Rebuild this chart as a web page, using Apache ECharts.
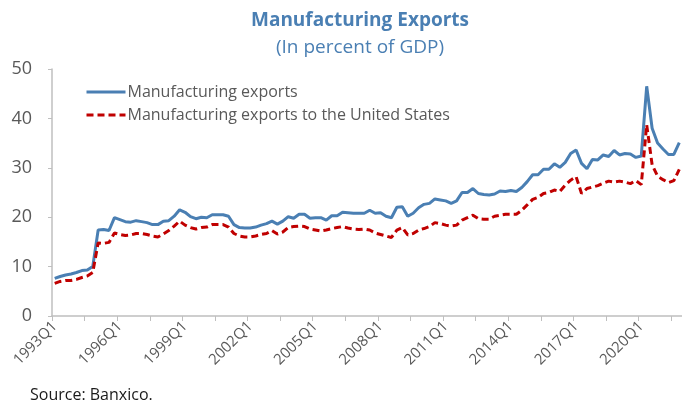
<!DOCTYPE html>
<html>
<head>
<meta charset="utf-8">
<script src="https://cdn.jsdelivr.net/npm/echarts@6/dist/echarts.min.js"></script>
<style>
  html, body { margin: 0; padding: 0; background: #ffffff; }
  #chart { width: 682px; height: 402px; }
</style>
</head>
<body>
<div id="chart"></div>
<script>
// Quarterly categories, 1993Q1 through 2021Q4
const firstYear = 1993;
const lastYear = 2021;
const quarters = [];
for (let y = firstYear; y <= lastYear; y++) {
  for (let q = 1; q <= 4; q++) quarters.push(y + 'Q' + q);
}

// Manufacturing exports, percent of GDP
const manufacturingExports = [
  7.6, 8.0, 8.3, 8.5, 8.8, 9.2, 9.3, 10.0,
  17.4, 17.5, 17.3, 19.9, 19.5, 19.1, 19.0, 19.3,
  19.1, 18.9, 18.5, 18.5, 19.2, 19.3, 20.2, 21.5,
  21.0, 20.1, 19.7, 20.0, 19.9, 20.5, 20.5, 20.5,
  20.2, 18.5, 17.9, 17.8, 17.8, 18.0, 18.4, 18.7,
  19.2, 18.6, 19.2, 20.1, 19.8, 20.6, 20.6, 19.8,
  19.9, 19.9, 19.4, 20.3, 20.3, 21.0, 20.9, 20.8,
  20.8, 20.8, 21.4, 20.8, 20.9, 20.2, 19.9, 22.0,
  22.1, 20.2, 20.8, 21.9, 22.6, 22.8, 23.7, 23.5,
  23.3, 22.8, 23.3, 25.0, 25.0, 25.8, 24.8, 24.6,
  24.5, 24.7, 25.3, 25.2, 25.4, 25.2, 26.0, 27.2,
  28.6, 28.6, 29.7, 29.7, 30.8, 30.1, 31.1, 32.9,
  33.6, 30.9, 29.8, 31.7, 31.6, 32.6, 32.3, 33.5,
  32.6, 32.9, 32.8, 32.1, 32.4, 46.5, 38.0, 35.0,
  33.8, 32.7, 32.7, 35.1
];

// Manufacturing exports to the United States, percent of GDP
const exportsToUS = [
  6.6, 7.0, 7.2, 7.2, 7.4, 7.8, 8.1, 8.8,
  14.8, 14.7, 14.9, 16.8, 16.5, 16.3, 16.4, 16.7,
  16.7, 16.5, 16.2, 16.0, 16.6, 17.3, 18.2, 19.2,
  18.4, 17.9, 17.6, 17.9, 18.0, 18.5, 18.5, 18.5,
  18.0, 16.7, 16.2, 16.0, 16.0, 16.2, 16.5, 16.7,
  17.3, 16.6, 17.0, 17.9, 18.1, 18.2, 18.1, 17.6,
  17.4, 17.2, 17.4, 17.7, 17.9, 18.1, 17.8, 17.6,
  17.5, 17.6, 17.4, 16.8, 16.5, 16.2, 15.9, 17.4,
  17.9, 16.4, 16.7, 17.4, 17.7, 18.1, 18.9, 18.7,
  18.4, 18.2, 18.4, 19.4, 19.9, 20.4, 19.7, 19.6,
  19.6, 20.2, 20.4, 20.6, 20.6, 20.6, 21.4, 22.5,
  23.6, 24.0, 24.8, 25.0, 25.5, 25.2, 26.5, 27.5,
  28.2, 24.8, 25.8, 26.1, 26.4, 26.9, 27.3, 27.1,
  27.3, 27.1, 26.8, 27.4, 26.6, 38.7, 30.6, 28.3,
  27.6, 27.0, 27.4, 29.7
];

const seriesNames = ['Manufacturing exports', 'Manufacturing exports to the United States'];
const yTicks = { min: 0, max: 50, interval: 10 };

const FONT = '"Open Sans", "Noto Sans", sans-serif';
const BLUE = '#4a7fb3';
const RED = '#c00000';
const GRAY_TEXT = '#595959';
const AXIS_GRAY = '#bfbfbf';

const chart = echarts.init(document.getElementById('chart'), null, { renderer: 'canvas' });

chart.setOption({
  animation: false,
  backgroundColor: '#ffffff',
  textStyle: { fontFamily: FONT },
  graphic: [
    {
      type: 'text', x: 360, y: 11,
      style: {
        text: 'Manufacturing Exports', textAlign: 'center', textVerticalAlign: 'top',
        font: 'bold 19px ' + FONT, fill: BLUE
      }
    },
    {
      type: 'text', x: 360, y: 38,
      style: {
        text: '(In percent of GDP)', textAlign: 'center', textVerticalAlign: 'top',
        font: '19px ' + FONT, fill: BLUE
      }
    },
    {
      type: 'text', x: 30, y: 395,
      style: {
        text: 'Source: Banxico.', textAlign: 'left', textVerticalAlign: 'middle',
        font: '16px ' + FONT, fill: '#1a1a1a'
      }
    }
  ],
  legend: {
    orient: 'vertical',
    left: 85,
    top: 84,
    padding: 0,
    itemWidth: 39,
    itemHeight: 12,
    itemGap: 7,
    itemStyle: { opacity: 0 },
    lineStyle: { width: 3 },
    textStyle: { fontFamily: FONT, fontSize: 16, color: GRAY_TEXT, padding: [0, 0, 0, -3] },
    data: seriesNames
  },
  grid: { left: 52, right: 0, top: 69, bottom: 86, containLabel: false },
  xAxis: {
    type: 'category',
    data: quarters,
    boundaryGap: true,
    axisLine: { lineStyle: { color: AXIS_GRAY, width: 1.5 } },
    axisTick: { show: true, interval: 5, length: 5, lineStyle: { color: AXIS_GRAY } },
    axisLabel: {
      interval: 11, rotate: 45, color: GRAY_TEXT, fontSize: 15, fontFamily: FONT, margin: 8
    },
    splitLine: { show: false }
  },
  yAxis: {
    type: 'value',
    min: yTicks.min, max: yTicks.max, interval: yTicks.interval,
    axisLine: { show: true, lineStyle: { color: AXIS_GRAY, width: 1.5 } },
    axisTick: { show: true, length: 4, lineStyle: { color: AXIS_GRAY } },
    axisLabel: { color: GRAY_TEXT, fontSize: 18, fontFamily: FONT, margin: 20 },
    splitLine: { show: false }
  },
  series: [
    {
      name: seriesNames[0], type: 'line', data: manufacturingExports,
      symbol: 'none', smooth: false,
      lineStyle: { color: BLUE, width: 3 },
      itemStyle: { color: BLUE }
    },
    {
      name: seriesNames[1], type: 'line', data: exportsToUS,
      symbol: 'none', smooth: false,
      lineStyle: { color: RED, width: 3, type: [7, 4] },
      itemStyle: { color: RED }
    }
  ]
});
</script>
</body>
</html>
